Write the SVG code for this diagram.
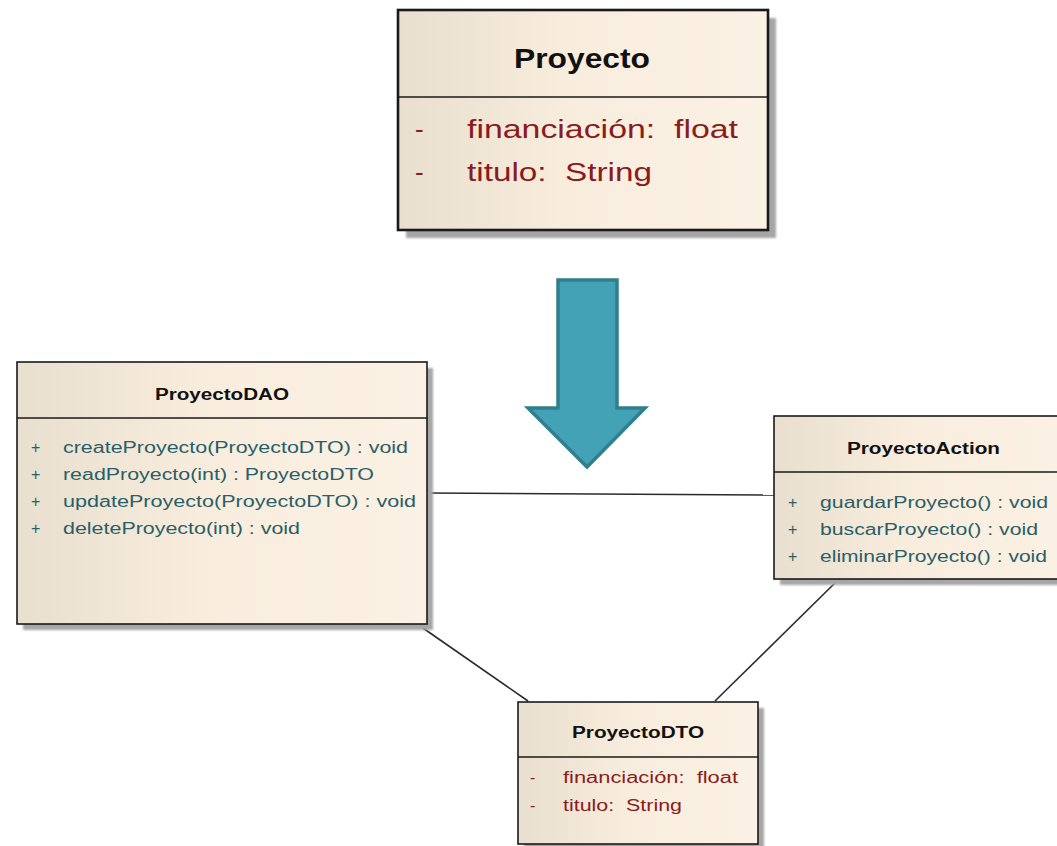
<svg xmlns="http://www.w3.org/2000/svg" width="1057" height="846" viewBox="0 0 1057 846">
<defs>
<linearGradient id="bg" x1="0" y1="0" x2="1" y2="0">
<stop offset="0" stop-color="#e9dfcf"/>
<stop offset="0.45" stop-color="#f8eddd"/>
<stop offset="1" stop-color="#fbf1e4"/>
</linearGradient>
<filter id="blur" x="-5%" y="-5%" width="110%" height="110%"><feGaussianBlur stdDeviation="1.2"/></filter>
</defs>
<style>
.box{fill:url(#bg);stroke:#1a1a1a;stroke-width:1.6}
.big{stroke-width:2.6}
.shadow{fill:#a6a6a6;filter:url(#blur)}
.div{stroke:#1a1a1a;stroke-width:1.6}
.title{font-family:"Liberation Sans",Arial,sans-serif;font-weight:bold;font-size:16px;fill:#111}
.method{font-family:"Liberation Sans",Arial,sans-serif;font-size:16px;fill:#2a5e68;white-space:pre}
.attr{font-family:"Liberation Sans",Arial,sans-serif;font-size:16px;fill:#8a1c1c;white-space:pre}
.conn{stroke:#2a2a2a;stroke-width:1.6;fill:none}
</style>
<rect width="1057" height="846" fill="#ffffff"/>

<g id="connectors">
<line class="conn" x1="427" y1="493" x2="774" y2="495"/>
<line class="conn" x1="420" y1="626" x2="528" y2="701"/>
<line class="conn" x1="838" y1="580" x2="715" y2="701"/>
</g>

<g id="arrow">
<polygon points="558,280 617,280 617,408 645,408 587,467 528,408 558,408" fill="#44a2b6" stroke="#2f7f8c" stroke-width="3.5" stroke-linejoin="miter"/>
</g>

<g id="Proyecto">
<rect class="shadow" x="406" y="18" width="370" height="220"/>
<rect class="box big" x="398" y="10" width="370" height="220"/>
<line class="div big" x1="398" y1="97" x2="768" y2="97"/>
<text class="title" x="514" y="68" style="font-size:28px" textLength="136" lengthAdjust="spacingAndGlyphs">Proyecto</text>
<text class="attr" x="415" y="138" style="font-size:26px">-</text>
<text class="attr" x="467" y="138" style="font-size:26px" xml:space="preserve" textLength="271" lengthAdjust="spacingAndGlyphs">financiación:  float</text>
<text class="attr" x="415" y="181" style="font-size:26px">-</text>
<text class="attr" x="467" y="181" style="font-size:26px" xml:space="preserve" textLength="185" lengthAdjust="spacingAndGlyphs">titulo:  String</text>
</g>

<g id="ProyectoDAO">
<rect class="shadow" x="23" y="368" width="410" height="262"/>
<rect class="box" x="17" y="362" width="410" height="262"/>
<line class="div" x1="17" y1="418" x2="427" y2="418"/>
<text class="title" x="155" y="400" textLength="134" lengthAdjust="spacingAndGlyphs">ProyectoDAO</text>
<text class="method" x="31" y="453">+</text>
<text class="method" x="63" y="453" textLength="345" lengthAdjust="spacingAndGlyphs">createProyecto(ProyectoDTO) : void</text>
<text class="method" x="31" y="480">+</text>
<text class="method" x="63" y="480" textLength="311" lengthAdjust="spacingAndGlyphs">readProyecto(int) : ProyectoDTO</text>
<text class="method" x="31" y="507">+</text>
<text class="method" x="63" y="507" textLength="353" lengthAdjust="spacingAndGlyphs">updateProyecto(ProyectoDTO) : void</text>
<text class="method" x="31" y="534">+</text>
<text class="method" x="63" y="534" textLength="237" lengthAdjust="spacingAndGlyphs">deleteProyecto(int) : void</text>
</g>

<g id="ProyectoAction">
<rect class="shadow" x="780" y="422" width="290" height="163"/>
<rect class="box" x="774" y="416" width="290" height="163"/>
<line class="div" x1="774" y1="472" x2="1064" y2="472"/>
<text class="title" x="847" y="454" textLength="153" lengthAdjust="spacingAndGlyphs">ProyectoAction</text>
<text class="method" x="788" y="508">+</text>
<text class="method" x="820" y="508" textLength="228" lengthAdjust="spacingAndGlyphs">guardarProyecto() : void</text>
<text class="method" x="788" y="535">+</text>
<text class="method" x="820" y="535" textLength="218" lengthAdjust="spacingAndGlyphs">buscarProyecto() : void</text>
<text class="method" x="788" y="562">+</text>
<text class="method" x="820" y="562" textLength="227" lengthAdjust="spacingAndGlyphs">eliminarProyecto() : void</text>
</g>

<g id="ProyectoDTO">
<rect class="shadow" x="524" y="708" width="240" height="142"/>
<rect class="box" x="518" y="702" width="240" height="142"/>
<line class="div" x1="518" y1="757" x2="758" y2="757"/>
<text class="title" x="572" y="738" textLength="132" lengthAdjust="spacingAndGlyphs">ProyectoDTO</text>
<text class="attr" x="530" y="783">-</text>
<text class="attr" x="563" y="783" xml:space="preserve" textLength="175" lengthAdjust="spacingAndGlyphs">financiación:  float</text>
<text class="attr" x="530" y="811">-</text>
<text class="attr" x="563" y="811" xml:space="preserve" textLength="119" lengthAdjust="spacingAndGlyphs">titulo:  String</text>
</g>
</svg>
